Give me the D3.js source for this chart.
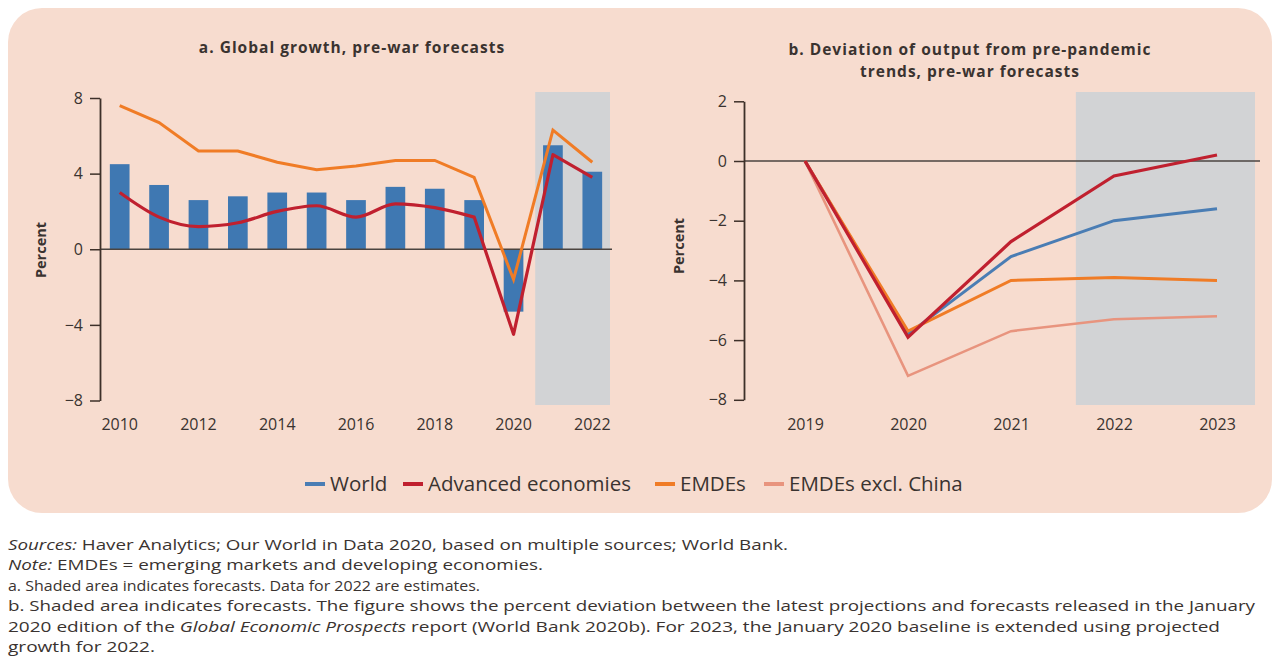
<!DOCTYPE html>
<html>
<head>
<meta charset="utf-8">
<script src="https://cdn.jsdelivr.net/npm/d3@7"></script>
<style>
  body { margin: 0; background: #fff; }
  svg text { font-family: "Open Sans", "DejaVu Sans", sans-serif; fill: #3a3330; }
</style>
</head>
<body>
<svg id="chart" width="1280" height="662"></svg>
<script>
// panel a: global growth
const yearsA = [2010, 2011, 2012, 2013, 2014, 2015, 2016, 2017, 2018, 2019, 2020, 2021, 2022];
const worldA = [4.5, 3.4, 2.6, 2.8, 3.0, 3.0, 2.6, 3.3, 3.2, 2.6, -3.3, 5.5, 4.1];
const advancedA = [3.0, 1.7, 1.2, 1.4, 2.0, 2.3, 1.7, 2.4, 2.2, 1.7, -4.5, 5.0, 3.8];
const emdeA = [7.6, 6.7, 5.2, 5.2, 4.6, 4.2, 4.4, 4.7, 4.7, 3.8, -1.6, 6.3, 4.6];
const forecastA = [2021, 2022];
const yTicksA = [-8, -4, 0, 4, 8];
const xLabelsA = [2010, 2012, 2014, 2016, 2018, 2020, 2022];

// panel b: deviation from pre-pandemic trends
const yearsB = [2019, 2020, 2021, 2022, 2023];
const worldB = [0, -5.8, -3.2, -2.0, -1.6];
const advancedB = [0, -5.9, -2.7, -0.5, 0.2];
const emdeB = [0, -5.7, -4.0, -3.9, -4.0];
const emdeExChinaB = [0, -7.2, -5.7, -5.3, -5.2];
const forecastB = [2022, 2023];
const yTicksB = [-8, -6, -4, -2, 0, 2];

const seriesNames = ["World", "Advanced economies", "EMDEs", "EMDEs excl. China"];
const colors = {
  "World": "#4a7db4",
  "Advanced economies": "#c0202f",
  "EMDEs": "#f07c26",
  "EMDEs excl. China": "#e8947e"
};

const notes = [
  [["Sources:", true], [" Haver Analytics; Our World in Data 2020, based on multiple sources; World Bank.", false]],
  [["Note:", true], [" EMDEs = emerging markets and developing economies.", false]],
  [["a. Shaded area indicates forecasts. Data for 2022 are estimates.", false]],
  [["b. Shaded area indicates forecasts. The figure shows the percent deviation between the latest projections and forecasts released in the January", false]],
  [["2020 edition of the ", false], ["Global Economic Prospects", true], [" report (World Bank 2020b). For 2023, the January 2020 baseline is extended using projected", false]],
  [["growth for 2022.", false]]
];
const noteWidths = [780, 535, 472, 1247, 1212, 147];

const svg = d3.select("#chart");

// panel background
svg.append("rect")
  .attr("x", 8).attr("y", 8)
  .attr("width", 1264).attr("height", 505)
  .attr("rx", 34).attr("ry", 34)
  .attr("fill", "#f7dccf");

// ---------- panel a ----------
const x = d3.scaleBand().domain(yearsA).range([100, 612]).paddingInner(0.5).paddingOuter(0.25);
const y = d3.scaleLinear().domain([-8, 8]).range([400.5, 98]);

const gA = svg.append("g");

// forecast shading
gA.append("rect")
  .attr("x", x(forecastA[0]) - (x.step() - x.bandwidth()) / 2 + 2)
  .attr("y", 92)
  .attr("width", x.step() * forecastA.length - 4)
  .attr("height", 313)
  .attr("fill", "#d2d3d5");

gA.append("text")
  .attr("x", 352).attr("y", 53)
  .attr("text-anchor", "middle")
  .style("font-size", "15.5px").style("font-weight", 700).style("letter-spacing", "1px")
  .text("a. Global growth, pre-war forecasts");

gA.selectAll(".bar")
  .data(yearsA)
  .enter().append("rect")
  .attr("class", "bar")
  .attr("x", d => x(d))
  .attr("width", x.bandwidth())
  .attr("y", (d, i) => y(Math.max(0, worldA[i])))
  .attr("height", (d, i) => Math.abs(y(worldA[i]) - y(0)))
  .attr("fill", "#3f78b2");

gA.append("line")
  .attr("x1", 100).attr("x2", 612)
  .attr("y1", y(0)).attr("y2", y(0))
  .attr("stroke", "#4b4440").attr("stroke-width", 1.6);

const xc = d => x(d) + x.bandwidth() / 2;

gA.append("path")
  .datum(emdeA)
  .attr("fill", "none")
  .attr("stroke", colors["EMDEs"])
  .attr("stroke-width", 3)
  .attr("d", d3.line().x((d, i) => xc(yearsA[i])).y(d => y(d)));

// advanced economies: smooth before 2019, straight through the 2020 dip
const advPts = yearsA.map((yr, i) => [xc(yr), y(advancedA[i])]);
const split = yearsA.indexOf(2019);
const smoothPart = d3.line().curve(d3.curveMonotoneX)(advPts.slice(0, split + 1));
const straightPart = d3.line()(advPts.slice(split));
gA.append("path")
  .attr("fill", "none")
  .attr("stroke", colors["Advanced economies"])
  .attr("stroke-width", 3.2)
  .attr("stroke-linejoin", "round")
  .attr("d", smoothPart + straightPart.replace(/^M/, "L"));

const yAxisA = gA.append("g")
  .attr("transform", "translate(100,0)")
  .call(d3.axisLeft(y).tickValues(yTicksA).tickSize(10).tickSizeOuter(0)
    .tickFormat(d => d < 0 ? "\u2212" + Math.abs(d) : d));
const xAxisA = gA.append("g")
  .attr("transform", "translate(0,413)")
  .call(d3.axisBottom(x).tickValues(xLabelsA).tickSize(0));

gA.append("text")
  .attr("transform", "translate(46,250) rotate(-90)")
  .attr("text-anchor", "middle")
  .style("font-size", "14.5px").style("font-weight", 700)
  .text("Percent");

// ---------- panel b ----------
const x2 = d3.scalePoint().domain(yearsB).range([805, 1217]);
const y2 = d3.scaleLinear().domain([-8, 2]).range([399.8, 101.3]);
const step2 = x2.step();

const gB = svg.append("g");

gB.append("rect")
  .attr("x", x2(forecastB[0]) - step2 * 0.37)
  .attr("y", 92)
  .attr("width", 1255 - (x2(forecastB[0]) - step2 * 0.37))
  .attr("height", 313)
  .attr("fill", "#d2d3d5");

gB.append("text")
  .attr("x", 970).attr("text-anchor", "middle")
  .style("font-size", "15.5px").style("font-weight", 700).style("letter-spacing", "1px")
  .selectAll("tspan")
  .data(["b. Deviation of output from pre-pandemic", "trends, pre-war forecasts"])
  .enter().append("tspan")
  .attr("x", 970)
  .attr("y", (d, i) => 55 + i * 22)
  .text(d => d);

gB.append("line")
  .attr("x1", 744).attr("x2", 1260)
  .attr("y1", y2(0)).attr("y2", y2(0))
  .attr("stroke", "#4b4440").attr("stroke-width", 1.6);

const seriesB = [
  ["EMDEs excl. China", emdeExChinaB, 2.6],
  ["World", worldB, 3],
  ["EMDEs", emdeB, 3],
  ["Advanced economies", advancedB, 3.2]
];
const lineB = d3.line().x((d, i) => x2(yearsB[i])).y(d => y2(d));
seriesB.forEach(s => {
  gB.append("path")
    .datum(s[1])
    .attr("fill", "none")
    .attr("stroke", colors[s[0]])
    .attr("stroke-width", s[2])
    .attr("d", lineB);
});

const yAxisB = gB.append("g")
  .attr("transform", "translate(744,0)")
  .call(d3.axisLeft(y2).tickValues(yTicksB).tickSize(10).tickSizeOuter(0)
    .tickFormat(d => d < 0 ? "\u2212" + Math.abs(d) : d));
const xAxisB = gB.append("g")
  .attr("transform", "translate(0,413)")
  .call(d3.axisBottom(x2).tickSize(0));

gB.append("text")
  .attr("transform", "translate(684,246) rotate(-90)")
  .attr("text-anchor", "middle")
  .style("font-size", "14.5px").style("font-weight", 700)
  .text("Percent");

// axis styling
[yAxisA, yAxisB].forEach(a => {
  a.select(".domain").attr("stroke", "#3d3029").attr("stroke-width", 1.8);
  a.selectAll(".tick line").attr("stroke", "#3d3029").attr("stroke-width", 1.5);
  a.selectAll(".tick text").attr("x", -17).style("font-size", "16px").attr("fill", "#3a3330");
});
[xAxisA, xAxisB].forEach(a => {
  a.select(".domain").remove();
  a.selectAll(".tick text").attr("dy", "0.9em").style("font-size", "16px").attr("fill", "#3a3330");
});

// ---------- legend ----------
const legendX = [305, 403, 655, 764];
const legend = svg.append("g");
seriesNames.forEach((name, i) => {
  legend.append("line")
    .attr("x1", legendX[i]).attr("x2", legendX[i] + 20)
    .attr("y1", 484).attr("y2", 484)
    .attr("stroke", colors[name]).attr("stroke-width", 4);
  legend.append("text")
    .attr("x", legendX[i] + 25).attr("y", 491)
    .style("font-size", "20.5px")
    .text(name);
});

// ---------- notes ----------
const noteG = svg.append("g");
notes.forEach((parts, i) => {
  const t = noteG.append("text")
    .attr("x", 8).attr("y", 550 + i * 20.4)
    .attr("textLength", noteWidths[i])
    .attr("lengthAdjust", "spacingAndGlyphs")
    .style("font-size", "14.5px").attr("fill", "#333");
  parts.forEach(p => {
    t.append("tspan").style("font-style", p[1] ? "italic" : "normal").text(p[0]);
  });
});
</script>
</body>
</html>
